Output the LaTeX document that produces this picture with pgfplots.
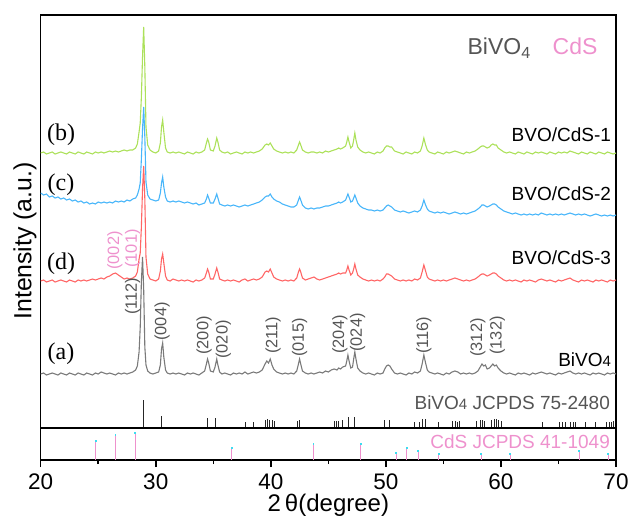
\documentclass[border=0pt]{standalone}
\usepackage{fontspec}
\setmainfont{Liberation Sans}
\newfontfamily\timesfont{Liberation Serif}
\usepackage{pgfplots}
\pgfplotsset{compat=1.18}
\usepackage{pgfplotstable}
\usetikzlibrary{calc}

\definecolor{xgreen}{RGB}{172,225,90}
\definecolor{xblue}{RGB}{72,182,250}
\definecolor{xred}{RGB}{255,102,102}
\definecolor{xgray}{RGB}{122,122,122}
\definecolor{xpink}{RGB}{238,145,205}
\definecolor{xtext}{RGB}{85,85,85}
\definecolor{xcyan}{RGB}{60,220,240}

% XRD patterns, heights in px above the separator line
% a = BiVO4, d = BVO/CdS-3, c = BVO/CdS-2, b = BVO/CdS-1
\pgfplotstableread{
x a d c b
20.00 53 146 234 274
20.25 54 147 232 275
20.50 52 145 233 273
20.75 53 146 230 274
21.00 54 147 231 275
21.25 53 145 229 273
21.50 52 146 230 274
21.75 54 147 228 275
22.00 53 146 229 274
22.25 52 145 227 273
22.50 54 147 228 275
22.75 53 146 226 274
23.00 52 145 227 273
23.25 54 147 225 275
23.50 53 146 226 274
23.75 52 147 224 273
24.00 54 146 225 275
24.25 53 147 223 274
24.50 52 148 224 273
24.75 54 147 223 275
25.00 53 148 225 274
25.25 55 149 224 275
25.50 54 148 225 274
25.75 53 150 224 275
26.00 54 151 225 276
26.25 53 153 224 275
26.50 52 154 226 276
26.75 54 152 225 275
27.00 53 150 226 276
27.25 54 148 225 277
27.50 53 149 227 276
27.75 54 148 226 277
28.00 55 149 228 277
28.25 57 151 229 279
28.40 61 155 232 283
28.55 75 168 238 295
28.65 100 174 244 304
28.75 145 200 268 330
28.85 170 238 298 370
28.95 138 261 320 400
29.05 80 228 290 360
29.15 62 170 245 300
29.30 56 153 232 282
29.50 54 148 228 277
29.75 53 147 227 275
30.00 54 146 226 274
30.25 55 148 227 276
30.40 62 156 234 284
30.50 78 168 244 300
30.60 84 173 250 307
30.70 70 164 240 295
30.85 57 151 230 279
31.00 54 147 226 275
31.25 53 146 225 274
31.50 54 148 226 275
31.75 53 147 225 274
32.00 54 146 226 275
32.25 53 147 225 274
32.50 52 146 224 273
32.75 54 147 225 275
33.00 53 146 224 274
33.25 54 145 223 273
33.50 53 147 224 275
33.75 52 146 222 274
34.00 54 147 223 275
34.25 56 149 224 277
34.40 63 154 228 284
34.50 68 158 232 288
34.60 64 155 229 285
34.75 56 148 224 277
35.00 55 148 224 276
35.15 60 153 228 281
35.30 68 159 233 289
35.40 62 155 229 285
35.55 55 148 223 277
35.75 53 147 222 275
36.00 54 146 221 274
36.25 53 147 222 275
36.50 52 146 221 273
36.75 54 147 222 274
37.00 53 146 221 275
37.25 54 145 220 274
37.50 53 147 221 273
37.75 55 148 222 275
38.00 53 146 221 274
38.25 54 147 222 275
38.50 55 148 223 274
38.75 54 147 224 275
39.00 55 148 225 276
39.25 57 150 227 278
39.50 63 155 230 282
39.65 66 156 231 283
39.80 64 155 231 282
39.95 68 158 233 284
40.10 62 154 230 281
40.25 58 150 228 278
40.50 55 148 226 276
40.75 54 147 225 275
41.00 53 146 223 274
41.25 54 147 222 275
41.50 53 146 221 274
41.75 54 147 220 275
42.00 53 146 220 274
42.25 56 149 222 277
42.40 63 155 227 282
42.50 68 158 230 285
42.60 63 155 227 282
42.75 56 149 222 277
43.00 54 147 219 275
43.25 53 148 218 274
43.50 54 149 219 275
43.75 53 150 218 275
44.00 54 148 219 274
44.25 55 147 219 275
44.50 54 148 220 274
44.75 56 149 221 276
45.00 55 150 221 275
45.25 57 151 222 276
45.50 58 152 223 277
45.75 57 153 224 278
45.90 59 154 225 279
46.05 58 153 224 278
46.25 60 154 225 279
46.50 61 154 227 281
46.60 66 157 230 285
46.70 72 161 233 290
46.80 66 157 230 285
46.95 59 152 225 279
47.10 60 154 226 281
47.20 68 158 229 287
47.30 75 163 232 294
47.40 68 158 229 287
47.55 59 152 224 280
47.75 56 150 221 277
48.00 54 148 219 275
48.25 53 147 218 274
48.50 54 146 217 275
48.75 53 147 217 274
49.00 52 146 216 273
49.25 54 147 217 275
49.50 53 146 216 274
49.75 54 148 217 276
49.90 58 150 219 279
50.05 61 153 221 281
50.20 62 153 222 281
50.35 61 152 221 280
50.50 58 151 220 280
50.75 54 148 217 276
51.00 53 147 216 275
51.25 54 146 215 274
51.50 53 147 216 273
51.75 52 146 215 275
52.00 54 147 214 274
52.25 53 146 215 273
52.50 55 148 216 275
52.75 54 147 215 274
53.00 56 149 217 276
53.15 63 155 221 281
53.30 72 162 227 289
53.45 64 156 222 282
53.60 57 150 218 277
53.75 55 148 216 275
54.00 54 147 215 274
54.25 53 146 214 273
54.50 54 147 215 275
54.75 53 146 214 274
55.00 52 147 215 273
55.25 54 146 214 275
55.50 53 147 213 274
55.75 55 148 214 275
56.00 56 149 215 276
56.25 55 148 214 275
56.50 53 147 213 274
56.75 54 146 214 273
57.00 53 147 213 275
57.25 54 146 214 274
57.50 53 147 215 275
57.75 54 148 216 276
58.00 56 150 218 278
58.20 60 152 220 280
58.35 63 153 222 281
58.50 61 153 222 281
58.65 62 152 221 280
58.80 58 151 220 279
59.00 59 152 221 280
59.15 61 153 222 282
59.30 63 154 223 283
59.45 61 154 223 282
59.60 62 153 222 282
59.75 59 151 220 279
60.00 56 149 218 277
60.25 54 147 216 275
60.50 53 146 215 274
60.75 54 147 214 275
61.00 53 146 213 274
61.25 52 147 214 273
61.50 54 146 213 275
61.75 53 145 212 274
62.00 54 147 213 273
62.25 53 146 212 275
62.50 52 147 213 274
62.75 54 146 212 273
63.00 53 145 213 275
63.25 54 147 212 274
63.50 55 148 214 275
63.75 54 147 213 274
64.00 53 146 212 273
64.25 54 147 213 275
64.50 53 146 212 274
64.75 52 145 213 273
65.00 54 147 212 275
65.25 53 146 213 274
65.50 54 147 212 275
65.75 55 148 213 274
66.00 56 149 214 276
66.25 54 147 213 275
66.50 53 146 212 274
66.75 54 145 213 273
67.00 53 147 212 275
67.25 54 146 213 274
67.50 53 147 212 273
67.75 52 146 211 275
68.00 54 145 212 274
68.25 53 147 213 273
68.50 54 146 212 275
68.75 53 147 211 274
69.00 52 146 212 273
69.25 54 145 211 275
69.50 53 147 212 274
69.75 54 146 211 273
70.00 53 147 212 274
}\xrd

% BiVO4 JCPDS 75-2480
\pgfplotstableread{
x h
28.9 27
30.5 11
34.5 9
35.2 9
37.8 5
38.5 5
39.5 7
39.7 8
39.9 7
40.1 7
40.3 6
42.3 6
42.5 7
45.5 6
45.7 6
45.9 6
46.2 7
46.7 10
47.3 10
49.9 7
50.3 7
52.5 5
52.9 5
53.2 8
53.4 8
54.6 5
55.8 6
56.0 6
56.2 5
56.4 6
57.9 6
58.2 7
58.4 7
58.6 6
59.2 7
59.4 8
59.6 8
59.8 7
60.0 6
63.6 5
65.1 5
65.3 5
65.6 5
66.0 5
66.3 5
66.5 5
67.3 5
68.2 5
69.2 5
69.4 5
69.6 5
69.8 6
}\bvoref

% CdS JCPDS 41-1049
\pgfplotstableread{
x h
24.8 19
26.5 25
28.2 27
36.6 12
43.7 16
47.8 16
50.9 7
51.8 12
52.8 9
54.6 6
58.3 6
60.8 6
66.8 9
69.3 6
}\cdsref

\newcommand{\hkl}[4][xtext]{\node[rotate=90,anchor=west,inner sep=0pt,text=#1,font=\fontsize{8.2}{9}\selectfont] at (axis cs:#2,#3) {#4};}

\begin{document}
\begin{tikzpicture}
\begin{axis}[
    name=main, scale only axis,
    width=287.65pt, height=206.5pt,
    xmin=20, xmax=70, ymin=-1, ymax=412,
    xtick=\empty, ytick=\empty,
    axis line style={line width=0.75pt},
]
\addplot[xgreen, line width=0.55pt] table[x=x,y=b]{\xrd};
\addplot[xblue, line width=0.55pt] table[x=x,y=c]{\xrd};
\addplot[xred, line width=0.55pt] table[x=x,y=d]{\xrd};
\addplot[xgray, line width=0.55pt] table[x=x,y=a]{\xrd};
\addplot[ycomb, black!85, line width=0.4pt] table[x=x,y=h]{\bvoref};

% sample names
\node[anchor=east, inner sep=0pt, font=\fontsize{9.5}{11}\selectfont] at (axis cs:69.6,292) {BVO/CdS-1};
\node[anchor=east, inner sep=0pt, font=\fontsize{9.5}{11}\selectfont] at (axis cs:69.6,233) {BVO/CdS-2};
\node[anchor=east, inner sep=0pt, font=\fontsize{9.5}{11}\selectfont] at (axis cs:69.6,169) {BVO/CdS-3};
\node[anchor=east, inner sep=0pt, font=\fontsize{9.5}{11}\selectfont] at (axis cs:69.6,67) {BiVO{\fontsize{7.5}{9}\selectfont 4}};
\node[font=\timesfont\fontsize{12}{14}\selectfont] at (axis cs:21.77,292) {(b)};
\node[font=\timesfont\fontsize{12}{14}\selectfont] at (axis cs:21.77,242) {(c)};
\node[font=\timesfont\fontsize{12}{14}\selectfont] at (axis cs:21.77,163) {(d)};
\node[font=\timesfont\fontsize{12}{14}\selectfont] at (axis cs:21.77,73) {(a)};
\node[anchor=east, inner sep=0pt, text=xtext, font=\fontsize{9.5}{11}\selectfont] at (axis cs:69.5,24) {BiVO{\fontsize{7.5}{9}\selectfont 4} JCPDS 75-2480};

% legend text
\node[anchor=base west, inner sep=0pt, text=xtext, font=\fontsize{11.5}{13}\selectfont] at (axis cs:57.07,372) {BiVO\textsubscript{4}};
\node[anchor=base west, inner sep=0pt, text=xpink, font=\fontsize{11.5}{13}\selectfont] at (axis cs:64.46,372) {CdS};

% Miller indices
\hkl[xpink]{26.45}{157}{(002)}
\hkl[xpink]{28.0}{159}{(101)}
\hkl{28.0}{112}{(112)}
\hkl{30.55}{86}{(004)}
\hkl{34.2}{72}{(200)}
\hkl{35.87}{68}{(020)}
\hkl{40.2}{73}{(211)}
\hkl{42.5}{70}{(015)}
\hkl{46.0}{73}{(204)}
\hkl{47.55}{75}{(024)}
\hkl{53.3}{73}{(116)}
\hkl{58.0}{70}{(312)}
\hkl{59.7}{72}{(132)}
\end{axis}

\begin{axis}[
    name=cds, at={(main.south west)}, anchor=north west, scale only axis,
    width=287.65pt, height=16pt,
    xmin=20, xmax=70, ymin=0, ymax=32,
    ytick=\empty, xtick={20,30,...,70}, minor x tick num=1,
    xtick pos=bottom, tick align=outside,
    major tick length=3.5pt, minor tick length=2pt,
    tick style={line width=0.75pt, black},
    axis line style={line width=0.75pt},
    xticklabel style={font=\fontsize{11.25}{13}\selectfont},
    /pgf/number format/assume math mode=true,
]
\addplot[ycomb, xpink, line width=0.45pt, mark=square*, mark size=0.22pt, mark options={fill=xcyan, draw=xcyan}] table[x=x,y=h]{\cdsref};
\node[anchor=east, inner sep=0pt, text=xpink, font=\fontsize{9.5}{11}\selectfont] at (axis cs:69.5,18) {CdS JCPDS 41-1049};
\end{axis}

\node[rotate=90, font=\fontsize{12.4}{14}\selectfont] at ($(main.north west)+(-7.85pt,-113pt)$) {Intensity (a.u.)};
\node[font=\fontsize{12}{14}\selectfont] at ($(cds.south)+(0,-22.5pt)$) {2\,θ(degree)};
\pgfresetboundingbox
\path[use as bounding box] ($(main.north west)+(-20.35pt,7.5pt)$) rectangle ($(cds.south east)+(8pt,-29.5pt)$);
\end{tikzpicture}
\end{document}
